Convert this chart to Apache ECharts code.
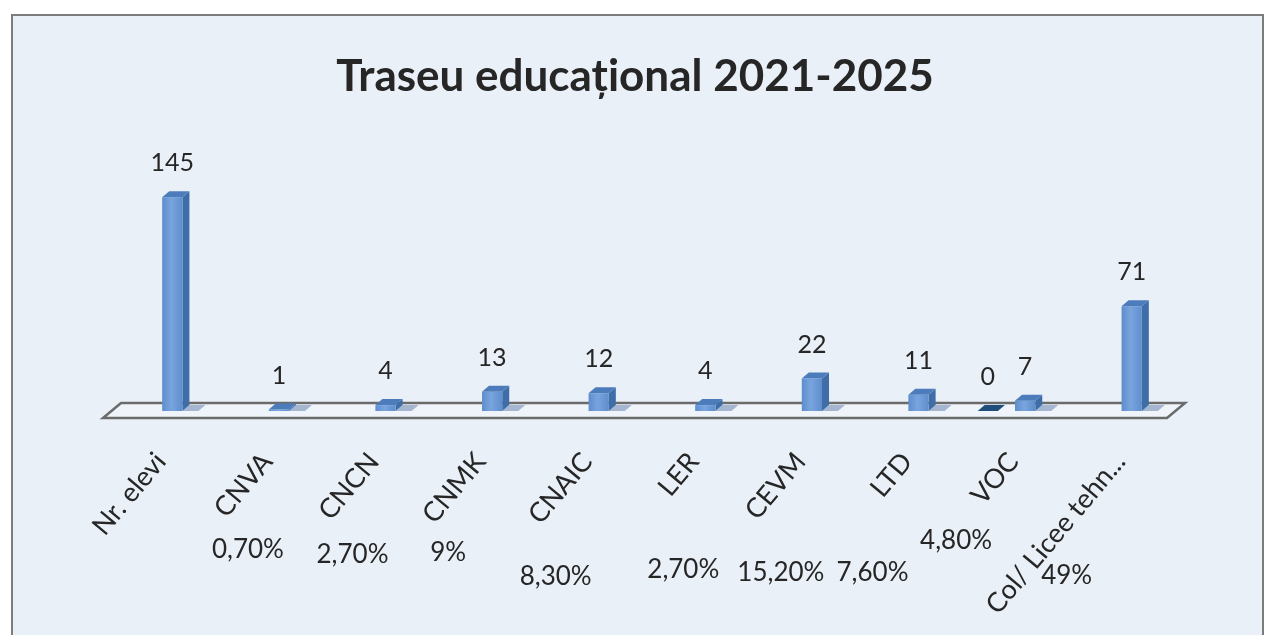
<!DOCTYPE html>
<html>
<head>
<meta charset="utf-8">
<script src="https://cdn.jsdelivr.net/npm/echarts@6/dist/echarts.min.js"></script>
<style>
html,body{margin:0;padding:0;background:#ffffff;}
#chart{width:1270px;height:635px;}
</style>
</head>
<body>
<div id="chart"></div>
<script>
// ---- data ----
const categories = ['Nr. elevi', 'CNVA', 'CNCN', 'CNMK', 'CNAIC', 'LER', 'CEVM', 'LTD', 'VOC', 'Col/ Licee tehn...'];
const studentCounts = [145, 1, 4, 13, 12, 4, 22, 11, 7, 71];
const secondaryCounts = [null, null, null, null, null, null, null, null, 0, null];
const percentLabels = ['', '0,70%', '2,70%', '9%', '8,30%', '2,70%', '15,20%', '7,60%', '4,80%', '49%'];

// ---- layout (pixel offsets of the hand-placed percentage labels, from category centre / baseline) ----
const pctOffsets = [[0, 0], [-31, 139], [-33, 144], [-44, 142], [-43, 166], [-22, 159], [-31, 162], [-46, 162], [-69, 130], [-65, 165]];

const FONT = 'Lato, "Noto Sans", sans-serif';
const DX = 7, DY = -6;

const chart = echarts.init(document.getElementById('chart'), null, {renderer: 'canvas'});

function bar3d(shift, dark) {
  return function (params, api) {
    const i = api.value(0), v = api.value(1);
    if (v == null || isNaN(v)) return null;
    const base = api.coord([i, 0]);
    const top = api.coord([i, v]);
    const band = api.size([1, 0])[0];
    const w = band * 0.19;
    const cx = base[0] + shift * band;
    const x0 = cx - w / 2, x1 = cx + w / 2, yb = base[1], yt = top[1];
    const children = [];
    if (!dark) {
      children.push({type: 'polygon', shape: {points: [[x1, yb], [x1 + 16, yb], [x1 + 16 + DX, yb + DY], [x1 + DX, yb + DY]]},
        style: {fill: '#a5b6d0'}});
      children.push({type: 'polygon', shape: {points: [[x1, yt], [x1 + DX, yt + DY], [x1 + DX, yb + DY], [x1, yb]]},
        style: {fill: '#3f6da8'}});
      children.push({type: 'rect', shape: {x: x0, y: yt, width: w, height: Math.max(yb - yt, 0)},
        style: {fill: new echarts.graphic.LinearGradient(0, 0, 1, 0, [
          {offset: 0, color: '#5e8dcd'}, {offset: 0.45, color: '#79a5de'}, {offset: 1, color: '#5f8ecd'}])}});
      children.push({type: 'polygon', shape: {points: [[x0, yt], [x1, yt], [x1 + DX, yt + DY], [x0 + DX, yt + DY]]},
        style: {fill: '#4c7cbb'}});
    } else {
      children.push({type: 'polygon', shape: {points: [[x0, yb], [x1, yb], [x1 + DX, yb + DY], [x0 + DX, yb + DY]]},
        style: {fill: '#1f4e7a'}});
    }
    children.push({type: 'text', x: cx, y: yt + DY - 28,
      style: {text: String(v), fill: '#262626', font: '25px ' + FONT, align: 'center', verticalAlign: 'middle'}});
    return {type: 'group', children: children};
  };
}

const option = {
  backgroundColor: '#ffffff',
  animation: false,
  title: {
    text: 'Traseu educațional 2021-2025',
    left: 'center',
    top: 50,
    textStyle: {fontFamily: FONT, fontWeight: 'bold', fontSize: 44, color: '#262626'}
  },
  graphic: [{
    type: 'rect', z: -10, silent: true,
    shape: {x: 12, y: 15, width: 1251, height: 640},
    style: {fill: '#eaf0f8', stroke: '#7c7c7c', lineWidth: 2}
  }],
  grid: {left: 119, right: 85, top: 175, bottom: 224},
  xAxis: {
    type: 'category',
    data: categories,
    axisLine: {show: false},
    axisTick: {show: false},
    axisLabel: {rotate: 50, margin: 32, fontSize: 27, fontFamily: FONT, color: '#262626', interval: 0,
      padding: [0, 18, 0, 0]}
  },
  yAxis: {type: 'value', min: 0, max: 160, show: false, splitLine: {show: false}},
  series: [
    {
      type: 'custom', name: 'floor', z: 1, silent: true,
      data: [[0, 0]],
      renderItem: function (params, api) {
        const cs = params.coordSys;
        const b = cs.y + cs.height;
        return {type: 'polygon',
          shape: {points: [[cs.x + 2, b - 8], [cs.x + cs.width, b - 8], [cs.x + cs.width - 18, b + 7], [cs.x - 16, b + 7]]},
          style: {fill: 'rgba(255,255,255,0.25)', stroke: '#6b6b6b', lineWidth: 2.5}};
      }
    },
    {
      type: 'custom', name: 'Nr. elevi', z: 3,
      data: studentCounts.map((v, i) => [i, v]),
      encode: {x: 0, y: 1},
      renderItem: bar3d(0, false)
    },
    {
      type: 'custom', name: 'secundar', z: 3,
      data: secondaryCounts.map((v, i) => [i, v]),
      encode: {x: 0, y: 1},
      renderItem: bar3d(-0.35, true)
    },
    {
      type: 'custom', name: 'procente', z: 4, silent: true,
      data: percentLabels.map((t, i) => [i, 0]),
      renderItem: function (params, api) {
        const i = params.dataIndex;
        const t = percentLabels[i];
        if (!t) return null;
        const base = api.coord([i, 0]);
        const off = pctOffsets[i];
        return {type: 'text', x: base[0] + off[0], y: base[1] + off[1],
          style: {text: t, fill: '#262626', font: '26px ' + FONT, align: 'center', verticalAlign: 'middle'}};
      }
    }
  ]
};
chart.setOption(option);
</script>
</body>
</html>
